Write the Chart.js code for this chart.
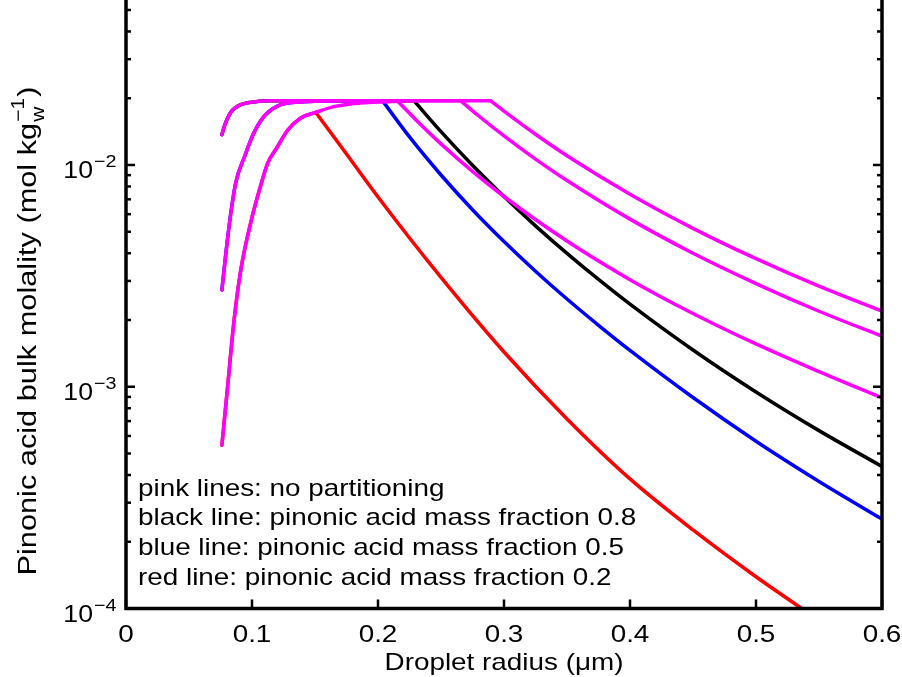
<!DOCTYPE html>
<html>
<head>
<meta charset="utf-8">
<script src="https://cdn.jsdelivr.net/npm/chart.js@4/dist/chart.umd.min.js"></script>
<style>
  body { margin: 0; background: #fff; }
  #wrap { width: 902px; height: 677px; }
</style>
</head>
<body>
<div id="wrap"><canvas id="chart" width="902" height="677"></canvas></div>
<script>
// ---- data (x = droplet radius in um, y = molality) ----
const plateauY = 0.0195;

// rising parts (shared by a pink line and its coloured twin)
const rise1X = [0.0761, 0.0785, 0.0832, 0.0911, 0.103, 0.123];
const rise1Y = [0.0137, 0.0152, 0.0173, 0.0187, 0.0193, 0.0195];
const rise2X = [0.0761, 0.0793, 0.0832, 0.0872, 0.0943, 0.1007, 0.1086, 0.1205, 0.1387, 0.1625];
const rise2Y = [0.00273, 0.00401, 0.00607, 0.00838, 0.01098, 0.01365, 0.0163, 0.01846, 0.01925, 0.0195];
const rise3X = [0.0761, 0.0806, 0.0858, 0.0911, 0.0991, 0.107, 0.1125, 0.1197, 0.1284, 0.1387, 0.1506];
const rise3Y = [0.000545, 0.000995, 0.002, 0.00336, 0.00553, 0.00812, 0.0102, 0.01194, 0.01438, 0.0163, 0.01726];
const rise3TopX = [0.1649, 0.1863, 0.2077, 0.226];
const rise3TopY = [0.01833, 0.01905, 0.0193, 0.0195];

// pink lines: no partitioning (falling parts)
const pinkAX = [0.2153, 0.23, 0.25, 0.275, 0.3, 0.35, 0.4, 0.45, 0.5, 0.55, 0.6];
const pinkAY = [0.0195, 0.016, 0.01245, 0.00936, 0.00721, 0.00454, 0.00304, 0.00214, 0.00156, 0.00117, 0.00089];
const pinkBX = [0.2655, 0.28, 0.3, 0.325, 0.35, 0.4, 0.45, 0.5, 0.55, 0.6];
const pinkBY = [0.0195, 0.01663, 0.01352, 0.01063, 0.00851, 0.0057, 0.004, 0.00292, 0.00219, 0.00169];
const pinkCX = [0.2893, 0.3, 0.325, 0.35, 0.4, 0.45, 0.5, 0.55, 0.6];
const pinkCY = [0.0195, 0.01749, 0.01376, 0.01101, 0.00738, 0.00518, 0.00378, 0.00284, 0.00219];

// mass fraction 0.8 / 0.5 / 0.2 (falling parts)
const blackX = [0.2285, 0.25, 0.275, 0.3, 0.325, 0.35, 0.3765, 0.4, 0.45, 0.5, 0.55, 0.6];
const blackY = [0.0195, 0.01413, 0.009966, 0.007203, 0.005316, 0.003993, 0.002999, 0.002357, 0.001464, 0.000947, 0.000634, 0.000437];
const blueX = [0.2035, 0.225, 0.25, 0.275, 0.3, 0.325, 0.35, 0.3765, 0.4, 0.45, 0.5, 0.55, 0.6];
const blueY = [0.0195, 0.01338, 0.009013, 0.006287, 0.004517, 0.003319, 0.002486, 0.001863, 0.001458, 0.000894, 0.000568, 0.000374, 0.000253];
const redX = [0.1506, 0.175, 0.2, 0.25, 0.3, 0.35, 0.4, 0.45, 0.5, 0.5363];
const redY = [0.01726, 0.0112, 0.00717, 0.00311, 0.001434, 0.000716, 0.000384, 0.000226, 0.000139, 0.0001];

const xTickVals = [0, 0.1, 0.2, 0.3, 0.4, 0.5, 0.6];
const xTickLabels = ['0', '0.1', '0.2', '0.3', '0.4', '0.5', '0.6'];
const yTickVals = [1e-4, 1e-3, 1e-2];
const yTickExps = ['\u22124', '\u22123', '\u22122'];
const notes = [
  'pink lines: no partitioning',
  'black line: pinonic acid mass fraction 0.8',
  'blue line: pinonic acid mass fraction 0.5',
  'red line: pinonic acid mass fraction 0.2'
];

function pts(xs, ys) {
  return xs.map((x, i) => ({ x: x, y: ys[i] }));
}
// flat piece between the end of a rise and the start of a fall
function flat(fromX, toX) {
  return [{ x: fromX, y: plateauY }, { x: toX, y: plateauY }];
}

const PINK = '#ff00ff';
function piece(data, color, smooth) {
  return {
    data: data, borderColor: color, borderWidth: 3.5, pointRadius: 0, showLine: true,
    cubicInterpolationMode: smooth ? 'monotone' : 'default', tension: 0, fill: false,
    borderCapStyle: 'round', borderJoinStyle: 'round'
  };
}
function lineOf(riseX, riseY, fallX, fallY, color) {
  return [
    piece(pts(riseX, riseY), color, true),
    piece(flat(riseX[riseX.length - 1], fallX[0]), color, false),
    piece(pts(fallX, fallY), color, true)
  ];
}

const rise3FullX = rise3X.concat(rise3TopX);
const rise3FullY = rise3Y.concat(rise3TopY);

// pink first so it is painted on top
const datasets = [].concat(
  lineOf(rise1X, rise1Y, pinkAX, pinkAY, PINK),
  lineOf(rise2X, rise2Y, pinkBX, pinkBY, PINK),
  lineOf(rise3FullX, rise3FullY, pinkCX, pinkCY, PINK),
  lineOf(rise1X, rise1Y, blackX, blackY, '#000000'),
  lineOf(rise2X, rise2Y, blueX, blueY, '#0000ff'),
  [piece(pts(rise3X, rise3Y), '#ff0000', true), piece(pts(redX, redY), '#ff0000', true)]
);

const SX = 1.16; // the text in the picture is wide
const FONT = '"Liberation Sans", Arial, sans-serif';

function wideText(ctx, s, x, y, size, align) {
  ctx.save();
  ctx.translate(x, y);
  ctx.scale(SX, 1);
  ctx.font = size + 'px ' + FONT;
  ctx.textAlign = align;
  ctx.textBaseline = 'alphabetic';
  ctx.fillText(s, 0, 0);
  ctx.restore();
}

function seg(ctx, x1, y1, x2, y2) {
  ctx.beginPath();
  ctx.moveTo(x1, y1);
  ctx.lineTo(x2, y2);
  ctx.stroke();
}

const frame = {
  id: 'frame',
  afterDraw(chart) {
    const ctx = chart.ctx;
    const a = chart.chartArea;
    const x = chart.scales.x, y = chart.scales.y;
    ctx.save();
    ctx.strokeStyle = '#000';
    ctx.fillStyle = '#000';

    // box (top edge falls outside the picture)
    ctx.lineWidth = 3.5;
    ctx.beginPath();
    ctx.moveTo(a.left, a.top - 5);
    ctx.lineTo(a.left, a.bottom);
    ctx.lineTo(a.right, a.bottom);
    ctx.lineTo(a.right, a.top - 5);
    ctx.stroke();

    // x ticks, inward
    ctx.lineWidth = 2.5;
    xTickVals.forEach((v, i) => {
      const px = x.getPixelForValue(v);
      seg(ctx, px, a.bottom, px, a.bottom - 9);
      wideText(ctx, xTickLabels[i], px, 642, 24, 'center');
    });

    // y ticks, major and minor, both sides
    for (let d = -4; d <= -1; d++) {
      for (let k = 1; k <= 9; k++) {
        const v = k * Math.pow(10, d);
        if (v > y.max) break;
        const py = y.getPixelForValue(v);
        const len = k === 1 ? 9 : 5;
        ctx.lineWidth = 2.5;
        seg(ctx, a.left, py, a.left + len, py);
        seg(ctx, a.right, py, a.right - len, py);
      }
    }
    yTickVals.forEach((v, i) => {
      const py = y.getPixelForValue(v);
      wideText(ctx, '10', 93, py + 13, 23, 'right');
      wideText(ctx, yTickExps[i], 94, py + 2, 17, 'left');
    });

    // x title
    wideText(ctx, 'Droplet radius (\u03bcm)', (a.left + a.right) / 2, 670, 24, 'center');

    // y title with subscript and superscript
    ctx.save();
    ctx.translate(36, 331);
    ctx.rotate(-Math.PI / 2);
    ctx.scale(SX, 1);
    ctx.textAlign = 'left';
    const main = 'Pinonic acid bulk molality (mol kg';
    ctx.font = '26.5px ' + FONT;
    const wMain = ctx.measureText(main).width;
    ctx.font = '18px ' + FONT;
    const wSub = Math.max(ctx.measureText('w').width, ctx.measureText('\u22121').width);
    ctx.font = '26.5px ' + FONT;
    const wEnd = ctx.measureText(')').width;
    let cx = -(wMain + wSub + wEnd + 2) / 2;
    ctx.fillText(main, cx, 0);
    cx += wMain + 1;
    ctx.font = '18px ' + FONT;
    ctx.fillText('w', cx, 8);
    ctx.fillText('\u22121', cx, -12);
    cx += wSub + 1;
    ctx.font = '26.5px ' + FONT;
    ctx.fillText(')', cx, 0);
    ctx.restore();

    // notes inside the axes
    const base = [496, 525, 555, 585];
    notes.forEach((s, i) => wideText(ctx, s, 138, base[i], 24, 'left'));

    ctx.restore();
  }
};

new Chart(document.getElementById('chart'), {
  type: 'scatter',
  data: { datasets: datasets },
  options: {
    responsive: false,
    animation: false,
    devicePixelRatio: 1,
    layout: { padding: { left: 126, right: 20, top: 0, bottom: 68.5 } },
    scales: {
      x: { type: 'linear', min: 0, max: 0.6, display: false },
      y: { type: 'logarithmic', min: 1e-4, max: 0.05546, display: false }
    },
    plugins: { legend: { display: false }, tooltip: { enabled: false } }
  },
  plugins: [frame]
});
</script>
</body>
</html>
